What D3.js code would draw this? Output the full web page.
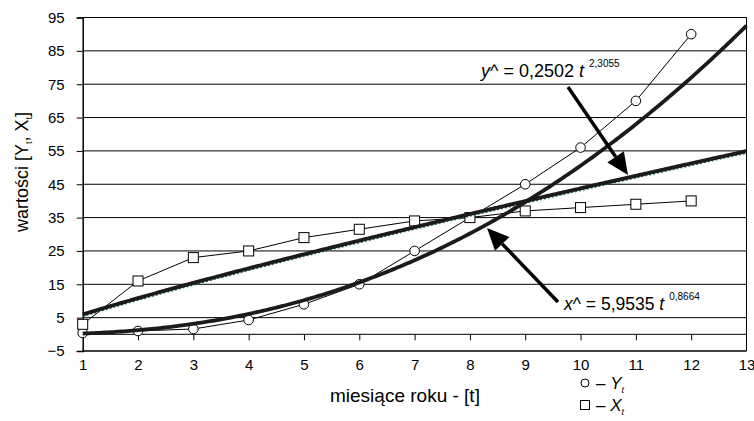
<!DOCTYPE html>
<html>
<head>
<meta charset="utf-8">
<script src="https://cdn.jsdelivr.net/npm/d3@7"></script>
<style>
  html, body { margin: 0; padding: 0; background: #fff; }
  svg { display: block; font-family: "Liberation Sans", Arial, sans-serif; }
</style>
</head>
<body>
<svg id="chart" width="754" height="421"></svg>
<script>
// months of the year
const months = [1, 2, 3, 4, 5, 6, 7, 8, 9, 10, 11, 12];
// observed series Y_t (circles) and X_t (squares)
const seriesY = [0.4, 1, 1.6, 4.3, 9, 15, 25, 35, 45, 56, 70, 90];
const seriesX = [3, 16, 23, 25, 29, 31.5, 34, 35, 37, 38, 39, 40];
// fitted power trends  v = a * t^b
const trendY = { a: 0.2502, b: 2.3055, label: "y^ = 0,2502 ", exp: "2,3055" };
const trendX = { a: 5.9535, b: 0.8664, label: "x^ = 5,9535 ", exp: "0,8664" };
// axis ticks
const yTicks = [-5, 5, 15, 25, 35, 45, 55, 65, 75, 85, 95];
const xTicks = [1, 2, 3, 4, 5, 6, 7, 8, 9, 10, 11, 12, 13];

const svg = d3.select("#chart");
const L = 82.7, R = 746.5, T = 17.5, B = 351;

const x = d3.scaleLinear().domain([1, 13]).range([L, R]);
const y = d3.scaleLinear().domain([-5, 95]).range([B, T]);

// horizontal grid lines
svg.append("g").selectAll("line").data(yTicks).join("line")
  .attr("x1", L).attr("x2", R)
  .attr("y1", d => y(d)).attr("y2", d => y(d))
  .attr("stroke", "#000").attr("stroke-width", 1);

// plot frame (right and bottom edges)
svg.append("path")
  .attr("d", `M${L},${B}H${R}V${T}`)
  .attr("fill", "none").attr("stroke", "#000").attr("stroke-width", 1);

// y axis
const yAxis = svg.append("g").attr("transform", `translate(${L},0)`)
  .call(d3.axisLeft(y).tickValues(yTicks).tickSize(6).tickPadding(12).tickFormat(d3.format("d")));
yAxis.select(".domain").attr("stroke", "#000").attr("stroke-width", 1.5);
yAxis.selectAll(".tick line").attr("stroke", "#000");
yAxis.selectAll("text").attr("font-size", 15).attr("fill", "#000")
  .attr("font-family", "Liberation Sans, Arial, sans-serif");

// category axis crossing at zero, ticks pointing down
const xTickAxis = svg.append("g").attr("transform", `translate(0,${y(0)})`)
  .call(d3.axisBottom(x).tickValues(xTicks.slice(1, -1)).tickSize(6).tickFormat(""));
xTickAxis.select(".domain").remove();
xTickAxis.selectAll(".tick line").attr("stroke", "#000");
svg.append("line").attr("x1", L).attr("x2", R).attr("y1", y(0)).attr("y2", y(0))
  .attr("stroke", "#000").attr("stroke-width", 1);

// x tick labels under the frame
const xLabels = svg.append("g").attr("transform", `translate(0,${B})`)
  .call(d3.axisBottom(x).tickValues(xTicks).tickSize(0).tickPadding(8.5).tickFormat(d3.format("d")));
xLabels.select(".domain").remove();
xLabels.selectAll("text").attr("font-size", 15).attr("fill", "#000")
  .attr("font-family", "Liberation Sans, Arial, sans-serif");

// observed series lines
const line = d3.line().x(d => x(d[0])).y(d => y(d[1]));
const ptsY = months.map((m, i) => [m, seriesY[i]]);
const ptsX = months.map((m, i) => [m, seriesX[i]]);
svg.append("path").attr("d", line(ptsY)).attr("fill", "none").attr("stroke", "#000").attr("stroke-width", 1);
svg.append("path").attr("d", line(ptsX)).attr("fill", "none").attr("stroke", "#000").attr("stroke-width", 1);

// markers
svg.append("g").selectAll("circle").data(ptsY).join("circle")
  .attr("cx", d => x(d[0])).attr("cy", d => y(d[1])).attr("r", 4.8)
  .attr("fill", "#fff").attr("stroke", "#000").attr("stroke-width", 1);
svg.append("g").selectAll("rect").data(ptsX).join("rect")
  .attr("x", d => x(d[0]) - 5).attr("y", d => y(d[1]) - 5)
  .attr("width", 10).attr("height", 10)
  .attr("fill", "#fff").attr("stroke", "#000").attr("stroke-width", 1);

// power trend curves over the whole axis range
const ts = d3.range(1, 13.0001, 0.05);
const curve = tr => ts.map(t => [t, tr.a * Math.pow(t, tr.b)]);
const smooth = d3.line().x(d => x(d[0])).y(d => y(d[1]));

svg.append("path").attr("d", smooth(curve(trendX)))
  .attr("transform", "translate(0,1.8)")
  .attr("fill", "none").attr("stroke", "#1f7a3c").attr("stroke-width", 2)
  .attr("stroke-dasharray", "2,2");
svg.append("path").attr("d", smooth(curve(trendX)))
  .attr("fill", "none").attr("stroke", "#1c1a1a").attr("stroke-width", 3.8);
svg.append("path").attr("d", smooth(curve(trendY)))
  .attr("fill", "none").attr("stroke", "#1c1a1a").attr("stroke-width", 3.8);

// arrows pointing to the trend curves
function arrow(x1, y1, x2, y2) {
  const ang = Math.atan2(y2 - y1, x2 - x1);
  const len = 22, half = 10;
  const bx = x2 - len * Math.cos(ang), by = y2 - len * Math.sin(ang);
  svg.append("line").attr("x1", x1).attr("y1", y1).attr("x2", bx).attr("y2", by)
    .attr("stroke", "#000").attr("stroke-width", 3.5);
  const p1 = [bx + half * Math.sin(ang), by - half * Math.cos(ang)];
  const p2 = [bx - half * Math.sin(ang), by + half * Math.cos(ang)];
  svg.append("path").attr("d", `M${x2},${y2}L${p1}L${p2}Z`).attr("fill", "#000");
}
arrow(568, 87, 628, 175);
arrow(558, 302, 487, 228);

// equation labels
function equation(tx, ty, tr, fs) {
  const t = svg.append("text").attr("x", tx).attr("y", ty)
    .attr("font-size", fs).attr("fill", "#000");
  t.append("tspan").attr("font-style", "italic").text(tr.label[0]);
  t.append("tspan").text(tr.label.slice(1));
  t.append("tspan").attr("font-style", "italic").text("t");
  t.append("tspan").attr("font-size", 10).attr("dx", 5).attr("dy", -10).text(tr.exp);
}
equation(481, 77, trendY, 18);
equation(564, 310, trendX, 17.5);

// axis titles
const yt = svg.append("text").attr("transform", "translate(28,172) rotate(-90)")
  .attr("text-anchor", "middle").attr("font-size", 18).attr("fill", "#000");
yt.append("tspan").text("wartości [Y");
yt.append("tspan").attr("font-size", 9).attr("dy", 4).text("t");
yt.append("tspan").attr("dy", -4).text(", X");
yt.append("tspan").attr("font-size", 9).attr("dy", 4).text("t");
yt.append("tspan").attr("dy", -4).text("]");

svg.append("text").attr("x", 330).attr("y", 402).attr("font-size", 19).attr("fill", "#000")
  .text("miesiące roku - [t]");

// legend
const legend = [
  { mark: "circle", name: "Y", cy: 383 },
  { mark: "square", name: "X", cy: 405 }
];
legend.forEach(d => {
  if (d.mark === "circle") {
    svg.append("circle").attr("cx", 585).attr("cy", d.cy).attr("r", 4)
      .attr("fill", "#fff").attr("stroke", "#000").attr("stroke-width", 1);
  } else {
    svg.append("rect").attr("x", 580.5).attr("y", d.cy - 4.5).attr("width", 9).attr("height", 9)
      .attr("fill", "#fff").attr("stroke", "#000").attr("stroke-width", 1);
  }
  const t = svg.append("text").attr("x", 596).attr("y", d.cy + 6).attr("font-size", 17).attr("fill", "#000");
  t.append("tspan").text("– ");
  t.append("tspan").attr("font-style", "italic").text(d.name);
  t.append("tspan").attr("font-style", "italic").attr("font-size", 9).attr("dy", 4).text("t");
});
</script>
</body>
</html>
